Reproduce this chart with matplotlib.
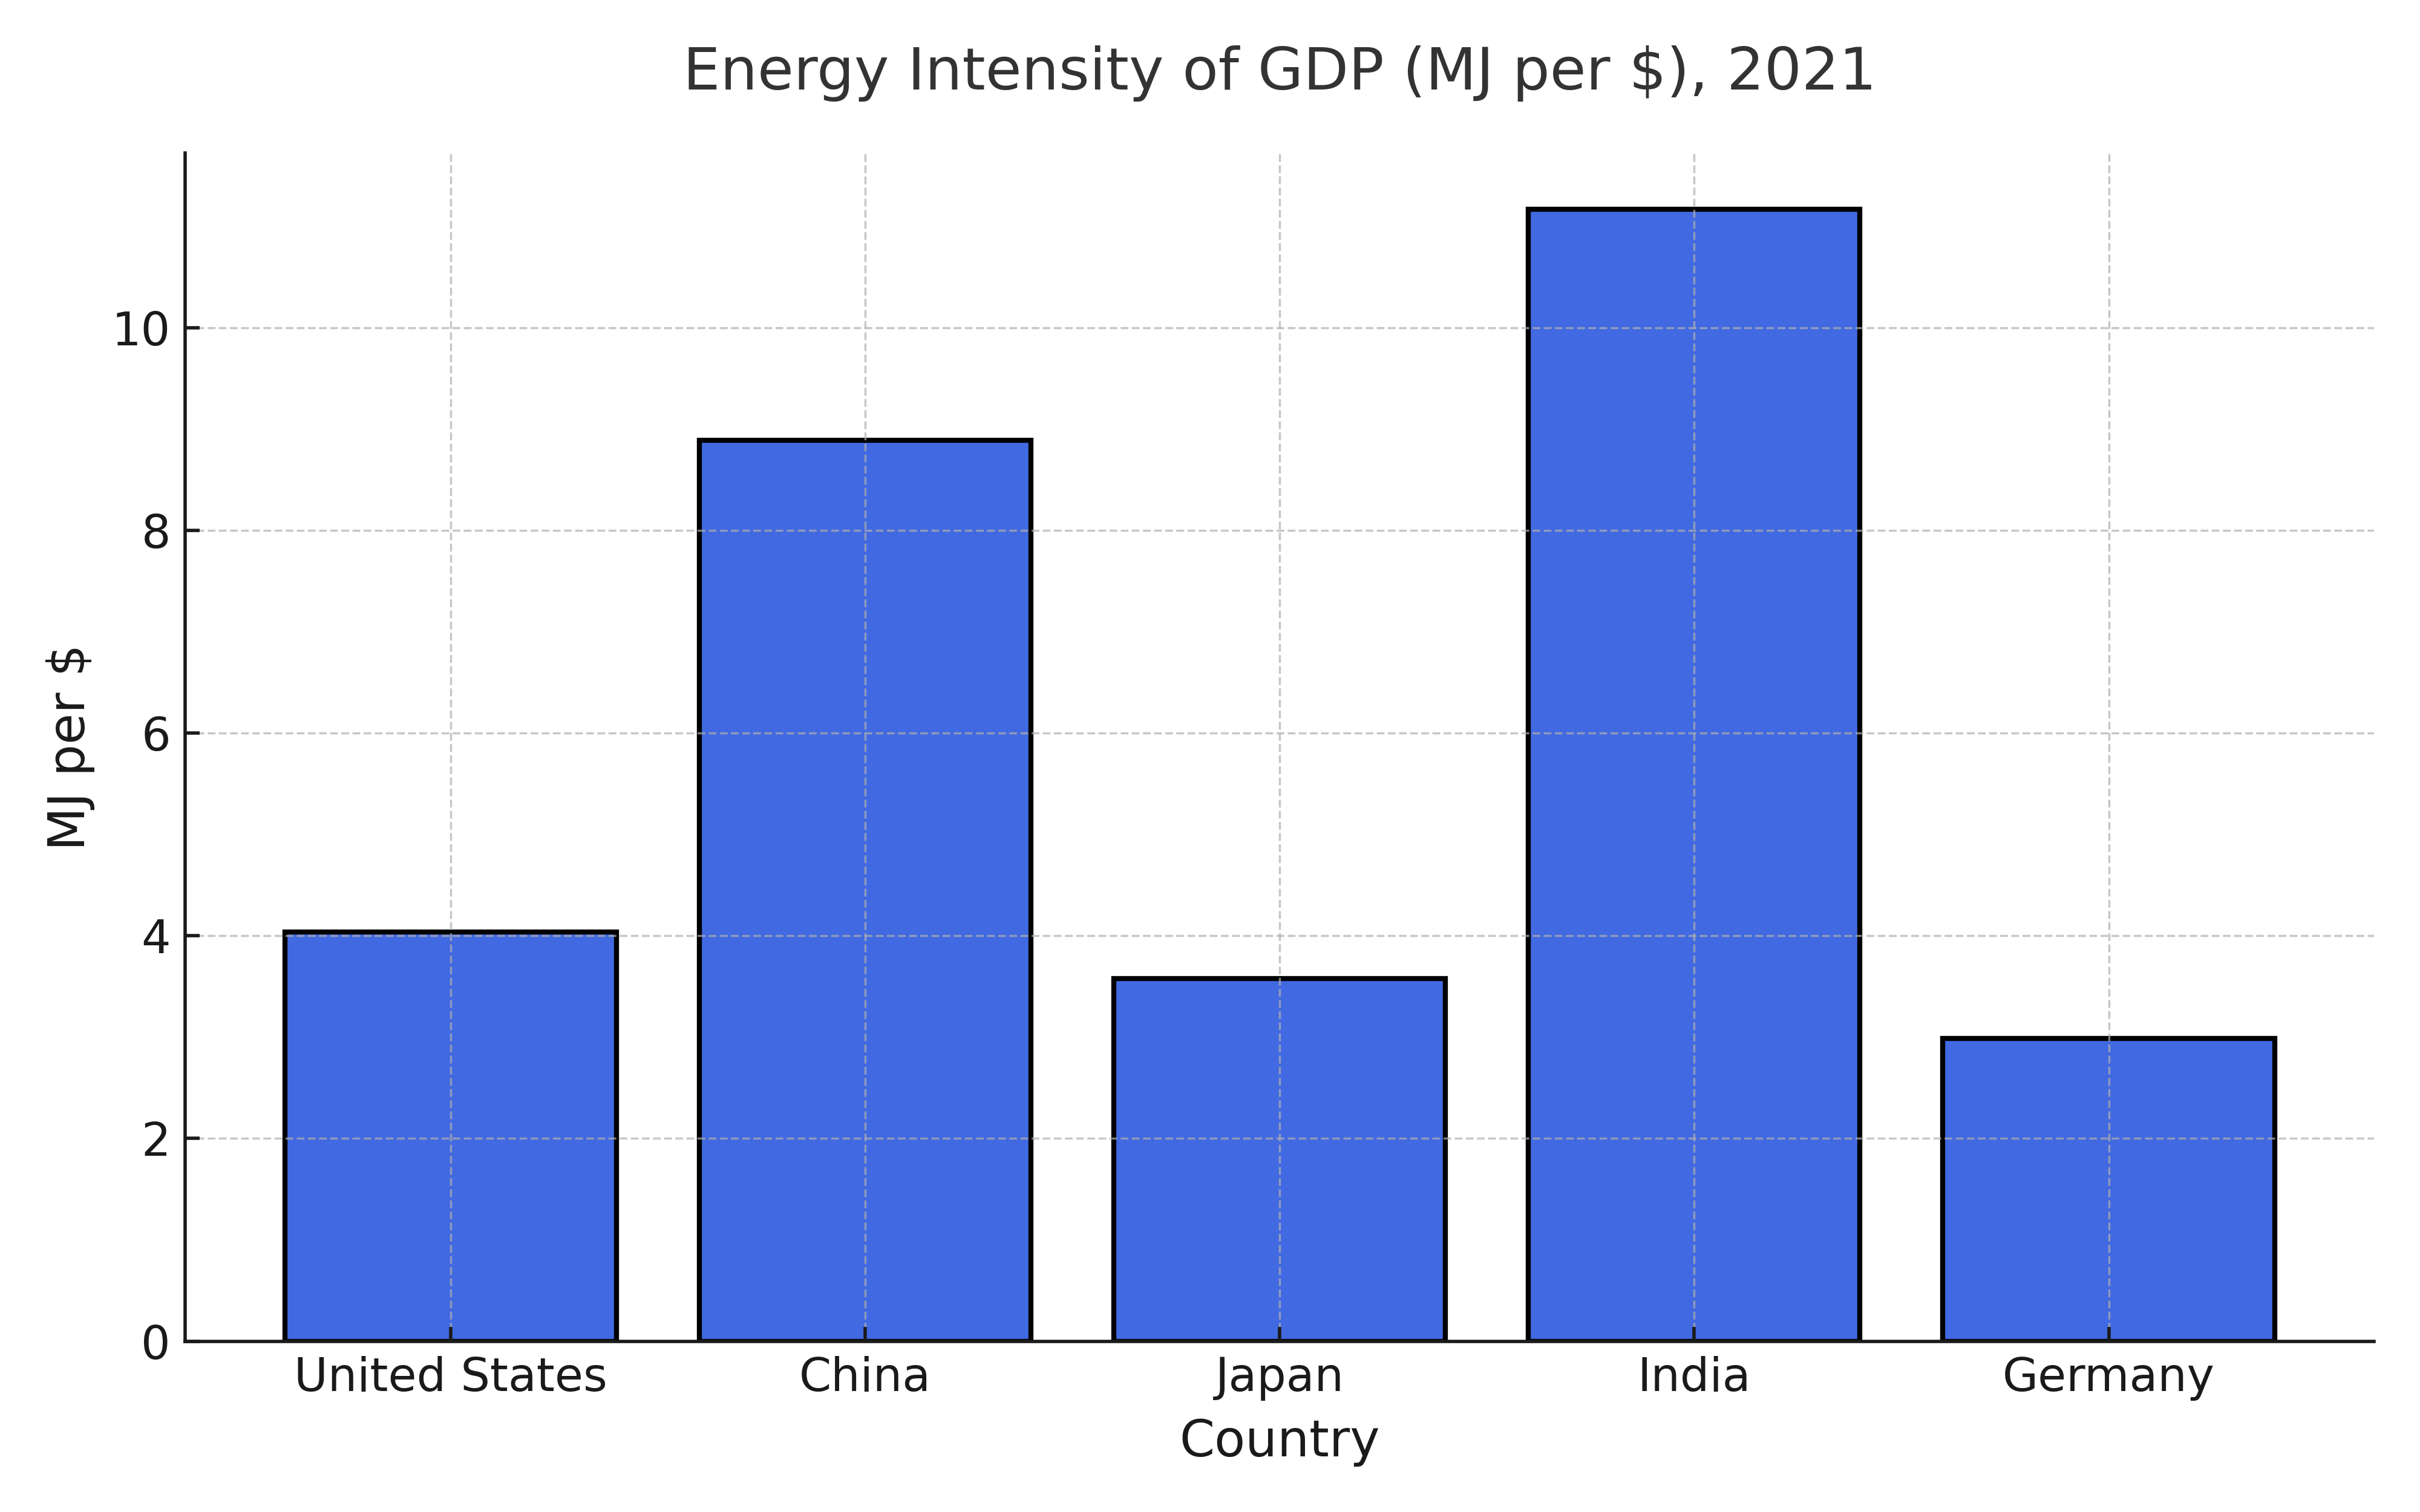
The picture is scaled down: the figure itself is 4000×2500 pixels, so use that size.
import matplotlib
matplotlib.use("Agg")
import matplotlib.pyplot as plt

countries = ["United States", "China", "Japan", "India", "Germany"]
intensity = [4.04, 8.89, 3.58, 11.17, 2.99]

fig, ax = plt.subplots(figsize=(8, 5), dpi=500)
ax.bar(countries, intensity, color="royalblue", edgecolor="black", linewidth=1.2, width=0.8)
ax.set_title("Energy Intensity of GDP (MJ per $), 2021", fontsize=14, color="#333333", pad=15)
ax.set_xlabel("Country", fontsize=12, color="#1a1a1a")
ax.set_ylabel("MJ per $", fontsize=12, color="#1a1a1a")
ax.tick_params(axis="both", direction="in", labelsize=11, labelcolor="#1a1a1a", color="#1a1a1a")
ax.grid(True, linestyle="--", color="#b0b0b0", alpha=0.7, linewidth=0.5)
ax.spines["top"].set_visible(False)
ax.spines["right"].set_visible(False)
for s in ["left", "bottom"]:
    ax.spines[s].set_color("#1a1a1a")
fig.subplots_adjust(left=0.0766, right=0.981, bottom=0.113, top=0.899)
fig.savefig("out.png", dpi=500)
